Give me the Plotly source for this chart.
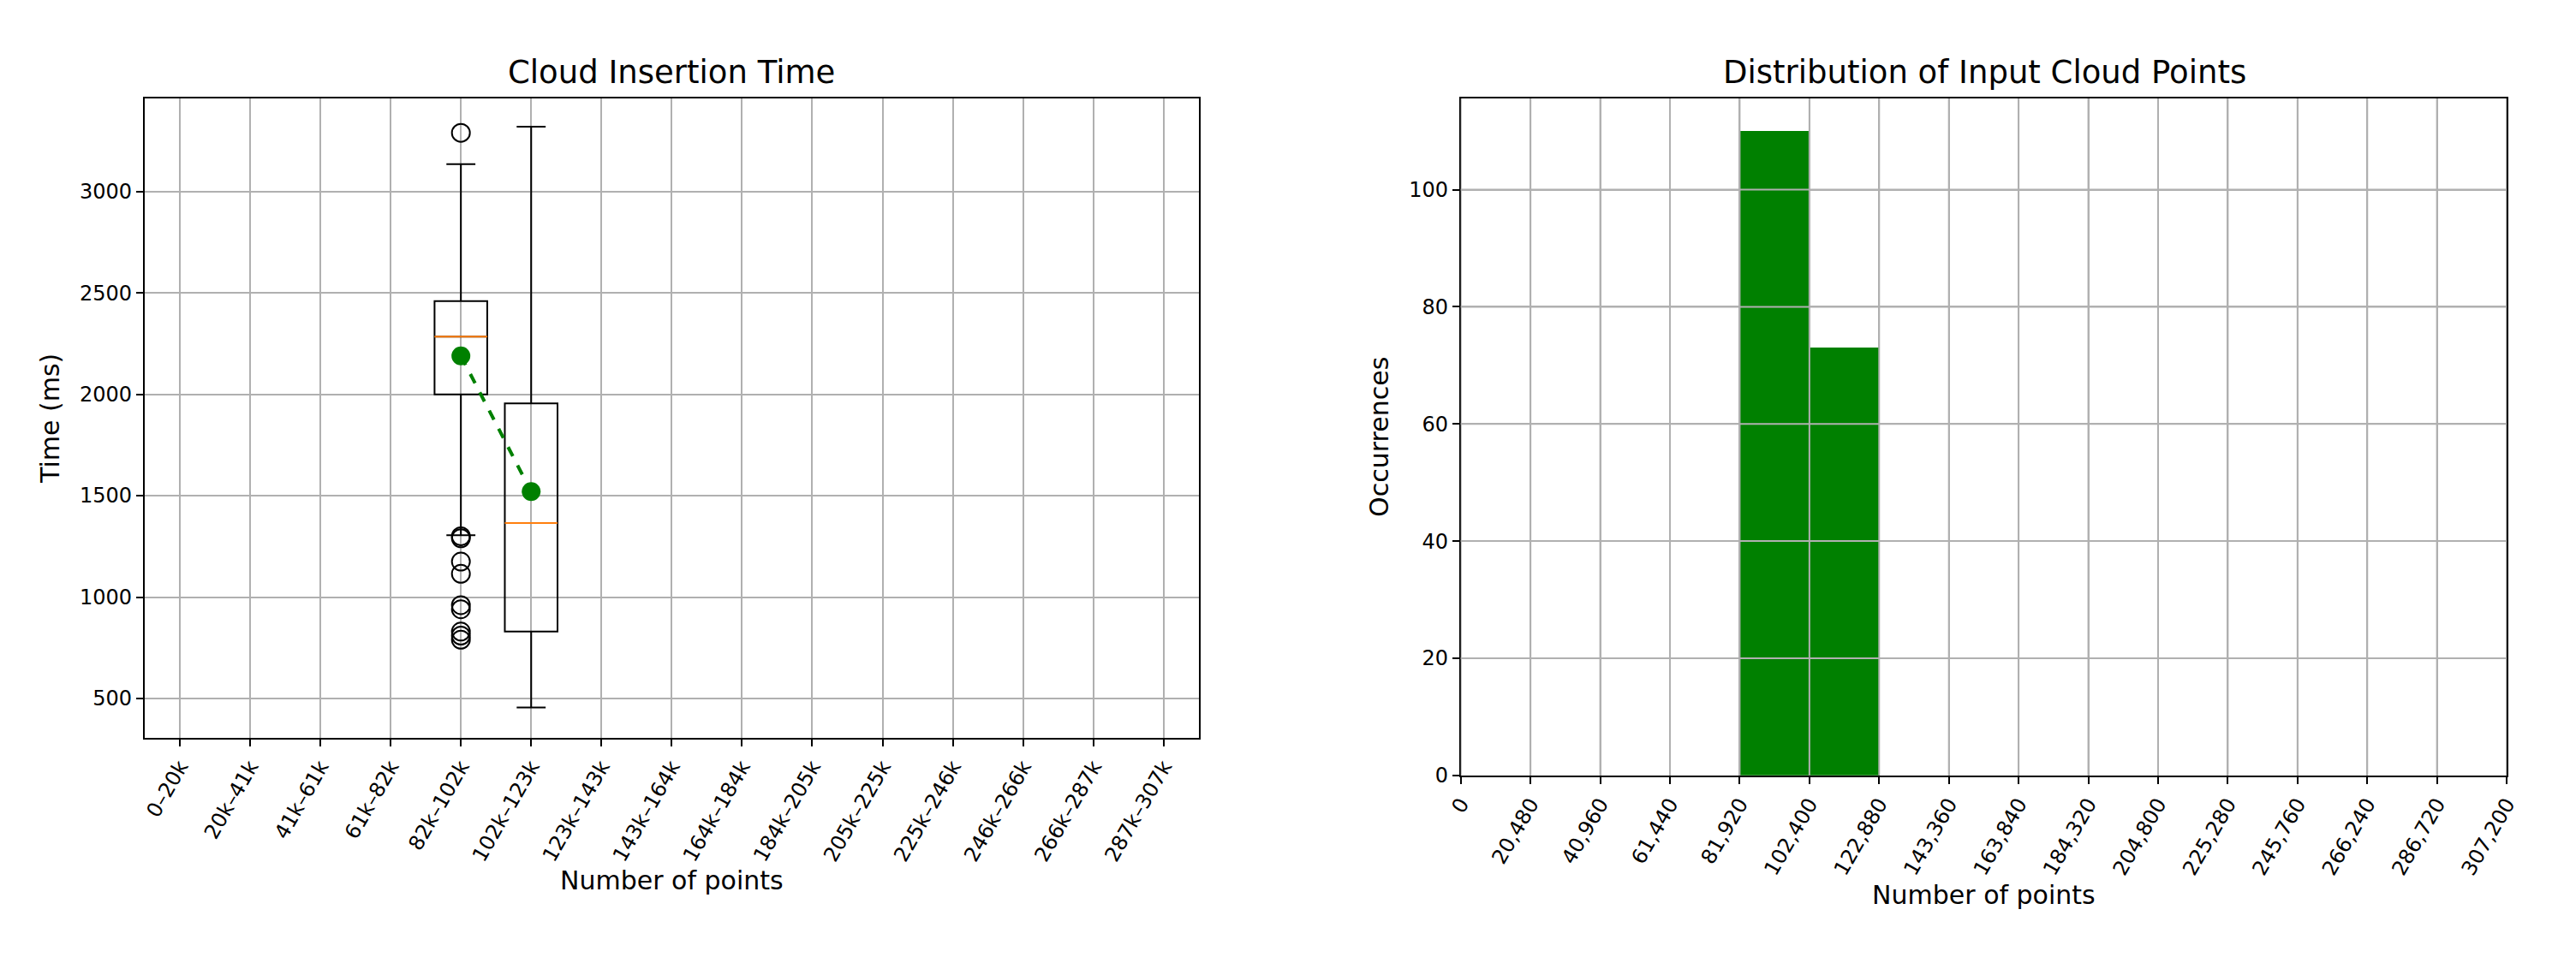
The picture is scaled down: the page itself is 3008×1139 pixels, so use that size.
import plotly.graph_objects as go

categories = ["0–20k","20k–41k","41k–61k","61k–82k","82k–102k","102k–123k","123k–143k","143k–164k",
              "164k–184k","184k–205k","205k–225k","225k–246k","246k–266k","266k–287k","287k–307k"]
box_pos = [5, 6]
q1 = [2000, 830]
med = [2285, 1365]
q3 = [2460, 1955]
lowf = [1305, 455]
upf = [3135, 3320]
means = [2190, 1520]
outlier_pos = [5]*10
outliers = [3290, 1300, 1290, 1175, 1115, 960, 940, 830, 810, 790]

bin_edges = [i*20480 for i in range(16)]
counts = [0,0,0,0,110,73,0,0,0,0,0,0,0,0,0]
hist_yticks = [0, 20, 40, 60, 80, 100]

fig = go.Figure()
BW = 0.75
fig.add_trace(go.Box(x=box_pos, q1=q1, median=med, q3=q3, lowerfence=lowf, upperfence=upf,
                     width=BW, whiskerwidth=0.55, line=dict(color="black", width=2),
                     fillcolor="rgba(0,0,0,0)", boxpoints=False, xaxis="x", yaxis="y", showlegend=False))
for p, m in zip(box_pos, med):
    fig.add_trace(go.Scatter(x=[p-BW/2, p+BW/2], y=[m, m], mode="lines",
                             line=dict(color="#ff7f0e", width=2), xaxis="x", yaxis="y", showlegend=False))
fig.add_trace(go.Scatter(x=outlier_pos, y=outliers, mode="markers",
                         marker=dict(symbol="circle-open", size=21, color="black", line=dict(width=2)),
                         xaxis="x", yaxis="y", showlegend=False))
fig.add_trace(go.Scatter(x=box_pos, y=means, mode="lines+markers",
                         line=dict(color="green", width=4, dash="dash"),
                         marker=dict(color="green", size=22), xaxis="x", yaxis="y", showlegend=False))

centers = [(bin_edges[i]+bin_edges[i+1])/2 for i in range(15)]
fig.add_trace(go.Bar(x=centers, y=counts, width=20480, marker=dict(color="green", line=dict(width=0)),
                     xaxis="x2", yaxis="y2", showlegend=False))

GRID = "#b0b0b0"
shapes = []
for v in bin_edges:
    shapes.append(dict(type="line", xref="x2", yref="y2 domain", x0=v, x1=v, y0=0, y1=1,
                       line=dict(color=GRID, width=2), layer="above"))
for v in hist_yticks[1:]:
    shapes.append(dict(type="line", xref="x2 domain", yref="y2", x0=0, x1=1, y0=v, y1=v,
                       line=dict(color=GRID, width=2), layer="above"))

D = 0.0065
font = dict(family="DejaVu Sans", size=24, color="black")
ax = dict(showline=True, linecolor="black", linewidth=2, mirror=True, showgrid=True,
          gridcolor=GRID, gridwidth=2, ticks="outside", ticklen=8, tickwidth=2,
          tickcolor="black", zeroline=False, tickfont=font, layer="above traces")
fig.update_layout(
    width=3008, height=1139, paper_bgcolor="white", plot_bgcolor="white", font=font,
    margin=dict(l=0, r=0, t=0, b=0), bargap=0, shapes=shapes,
    xaxis=dict(ax, domain=[0.0552-D, 0.4688-D], range=[0.5, 15.5], tickmode="array",
               tickvals=list(range(1, 16)), ticktext=categories, tickangle=-60,
               title=dict(text="Number of points", font=dict(size=30), standoff=8), anchor="y"),
    yaxis=dict(ax, domain=[1-0.761+0.002, 1-0.098+0.003], range=[306, 3460], tickvals=[500,1000,1500,2000,2500,3000],
               title=dict(text="Time (ms)", font=dict(size=30)), anchor="x"),
    xaxis2=dict(ax, domain=[0.5686-D+0.003, 0.979-D+0.003], range=[0, 307200], tickvals=bin_edges, tickformat=",d",
                tickangle=-60, title=dict(text="Number of points", font=dict(size=30), standoff=8), anchor="y2"),
    yaxis2=dict(ax, domain=[1-0.8+0.002, 1-0.098+0.003], range=[0, 115.6], tickvals=hist_yticks,
                title=dict(text="Occurrences", font=dict(size=30)), anchor="x2"),
    annotations=[
        dict(text="Cloud Insertion Time", x=0.262-D, y=1-0.068, xref="paper", yref="paper",
             xanchor="center", showarrow=False, font=dict(size=37), yanchor="middle"),
        dict(text="Distribution of Input Cloud Points", x=0.774-D+0.003, y=1-0.068, xref="paper", yref="paper",
             xanchor="center", showarrow=False, font=dict(size=37), yanchor="middle"),
    ],
)
fig.write_html("out.html")
